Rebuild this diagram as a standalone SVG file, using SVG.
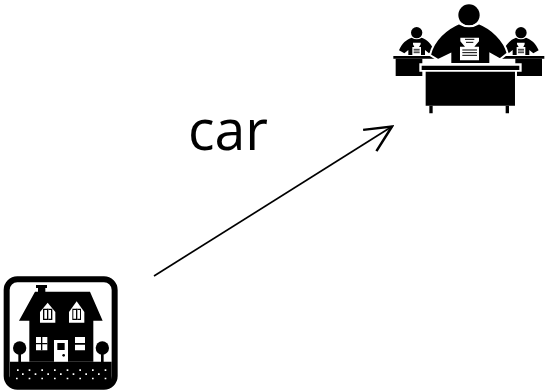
<svg xmlns="http://www.w3.org/2000/svg" width="547" height="390" viewBox="0 0 547 390">
<defs>
<marker id="open" markerUnits="userSpaceOnUse" markerWidth="30" markerHeight="30" refX="22" refY="12" orient="auto" viewBox="0 0 24 24"><path d="M1,2 L22,12 L1,22" fill="none" stroke="#000" stroke-width="2"/></marker>
<g id="small">
<circle cx="95" cy="98" r="17"/>
<path d="M42,151 C50,130 65,118 80,113 Q95,122 110,113 C125,118 140,132 147,151 L132,160 L120,150 L120,165 L70,165 L70,150 L58,160 Z"/>
<path d="M84,128 H107 V133 L102,141 H108 V165 H82 V141 H88 L84,133 Z" fill="#fff"/>
<path d="M86,148 H104 M86,153 H104 M86,158 H104" stroke="#000" stroke-width="2.5"/>
<path d="M25,168 H158 V176 H25 Z"/>
<path d="M32,176 H112 V228 H32 Z"/>
</g>
</defs>
<style>
text{font-family:"Open Sans","Liberation Sans",sans-serif;font-size:56px;fill:#000}
.w{fill:#fff}
</style>
<g id="connectors">
<line x1="154" y1="276" x2="392" y2="126.500" stroke="#000" stroke-width="1.700" marker-end="url(#open)"/>
</g>
<g id="label"><text x="188" y="150" textLength="80" lengthAdjust="spacingAndGlyphs">car</text></g>
<g id="office" transform="translate(385,0) scale(.3333)">
<use href="#small"/>
<use href="#small" transform="matrix(-1 0 0 1 503 0)"/>
<circle cx="252" cy="45" r="32"/>
<path d="M135,165 C145,120 185,85 222,70 Q252,88 282,70 C320,85 358,120 368,160 L345,178 L316,162 V192 H196 V162 L160,180 Z" stroke="#fff" stroke-width="6"/>
<path d="M226,113 H282 V124 L268,140 H282 V181 H225 V140 H240 L226,124 Z" class="w"/>
<path d="M240,118 H268 M243,127 H265 M232,150 H276 M232,158 H276 M232,166 H276" stroke="#000" stroke-width="3"/>
<path d="M103,190 H410 V215 H396 V325 H116 V215 H103 Z" class="w"/>
<path d="M110,197 H403 V210 H110 Z"/>
<path d="M122,215 H390 V317 H122 Z"/>
<path d="M133,317 H143 V340 H133 Z M362,317 H372 V340 H362 Z"/>
</g>
<g id="house" transform="translate(0,270) scale(.3333)">
<rect x="20" y="28" width="324" height="322" rx="32" class="w" stroke="#000" stroke-width="18"/>
<path d="M30,275 H335 V335 Q335,350 315,350 H50 Q30,350 30,335 Z"/>
<path d="M108,45 H141 V54 H136 V65 H270 L308,152 H280 V275 H88 V152 H57 L105,65 H114 V54 H108 Z"/>
<circle cx="59" cy="234" r="20"/><rect x="55" y="234" width="8" height="42"/>
<circle cx="307" cy="234" r="20"/><rect x="303" y="234" width="8" height="42"/>
<path d="M120,126 L143,98 L166,126 V158 H120 Z" class="w"/>
<path d="M207,126 L230,94 L253,126 V158 H207 Z" class="w"/>
<path d="M129,116 H157 V150 H129 Z M217,116 H243 V150 H217 Z"/>
<path d="M141,116 H145 V150 H141 Z M228,116 H232 V150 H228 Z M133,120 H153 V146 H133 Z M220,120 H240 V146 H220 Z" class="w"/>
<path d="M141,116 H145 V150 H141 Z M228,116 H232 V150 H228 Z"/>
<path d="M108,201 H142 V241 H108 Z M225,201 H255 V241 H225 Z M162,210 H204 V275 H162 Z" class="w"/>
<path d="M123,201 H127 V241 H123 Z M108,219 H142 V223 H108 Z M225,219 H255 V224 H225 Z M172,219 H194 V240 H172 Z"/>
<circle cx="191" cy="256" r="4"/>
<g fill="#fff"><path d="M51,298h5v5h-5zM86,298h5v5h-5zM124,298h5v5h-5zM162,298h5v5h-5zM200,298h5v5h-5zM238,298h5v5h-5zM276,298h5v5h-5zM314,298h5v5h-5zM66,310h5v5h-5zM104,310h5v5h-5zM142,310h5v5h-5zM180,310h5v5h-5zM218,310h5v5h-5zM256,310h5v5h-5zM294,310h5v5h-5zM48,323h5v5h-5zM86,323h5v5h-5zM124,323h5v5h-5zM162,323h5v5h-5zM200,323h5v5h-5zM238,323h5v5h-5zM276,323h5v5h-5zM314,323h5v5h-5z"/></g>
</g>
</svg>
